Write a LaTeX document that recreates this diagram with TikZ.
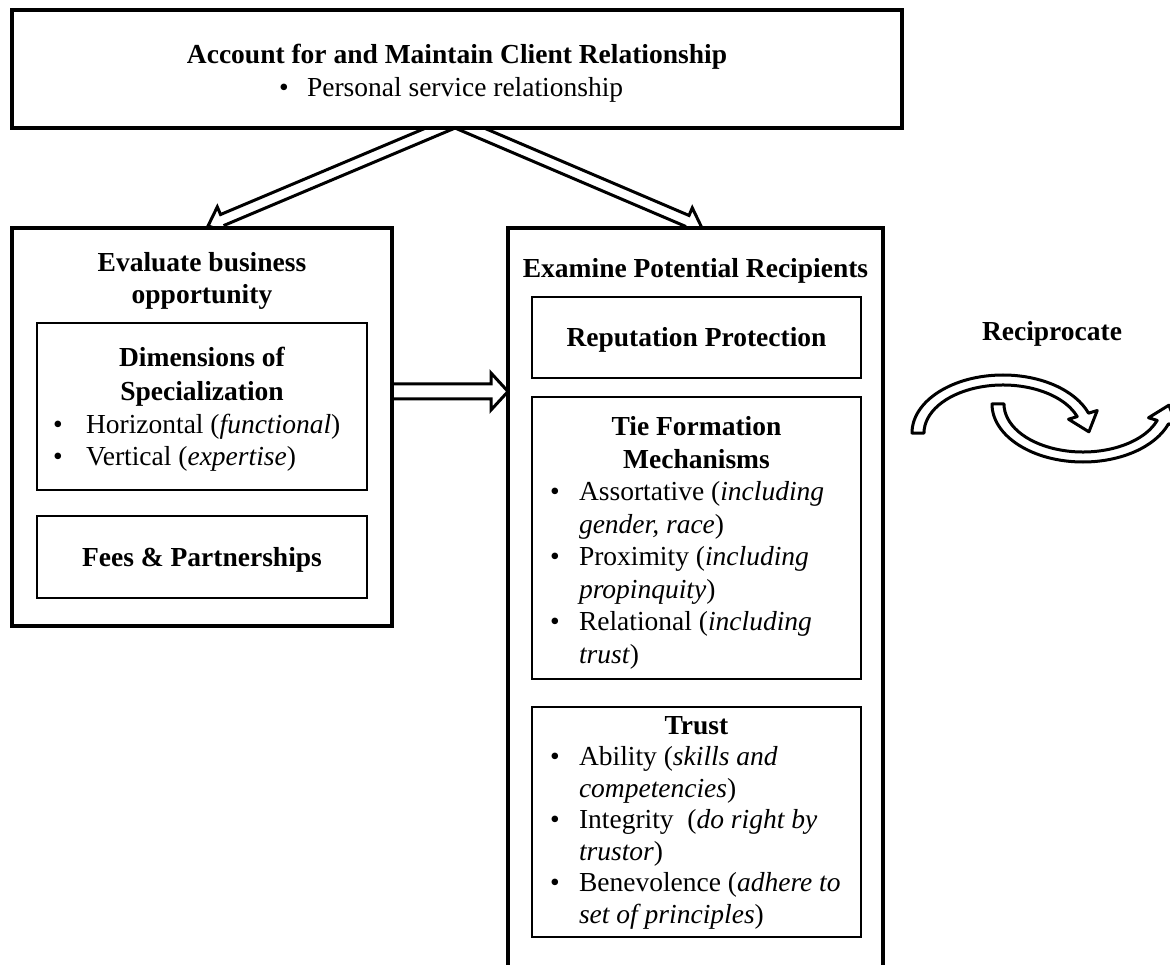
\documentclass[tikz,border=0pt]{standalone}
\usepackage{fontspec}
\setmainfont{Liberation Serif}
\usetikzlibrary{calc}
\pgfdeclarelayer{bg}
\pgfsetlayers{bg,main}
\tikzset{
  bigbox/.style={draw, line width=4pt, inner sep=0pt, outer sep=0pt, fill=white},
  innerbox/.style={draw, line width=1.8pt, inner sep=0pt, outer sep=0pt},
  txt/.style={inner sep=0pt, outer sep=0pt, font=\fontsize{27.5}{32}\selectfont},
  btxt/.style={inner sep=0pt, outer sep=0pt, font=\fontsize{27.5}{32}\selectfont\bfseries},
  arrowline/.style={line width=3pt, line join=miter, fill=white},
  recip/.style={line width=3pt, fill=white, line join=round},
}
% block arrow: #1 start, #2 tip, #3 shaft half width, #4 head half width, #5 head length
\newcommand\blockarrow[5]{%
  \coordinate (#1h) at ($(#2)!#5!(#1)$);
  \draw[arrowline] ($(#1)!#3!90:(#2)$) -- ($(#1h)!#3!90:(#2)$) -- ($(#1h)!#4!90:(#2)$)
    -- (#2) -- ($(#1h)!#4!-90:(#2)$) -- ($(#1h)!#3!-90:(#2)$) -- ($(#1)!#3!-90:(#2)$);
}
\newcommand\bulline[5]{%
  \node[txt, anchor=base] (#1b) at (#2,#4) {\textbullet};
  \node[txt, anchor=base west] (#1) at (#3,#4) {#5};
}
\newcommand\contline[4]{%
  \node[txt, anchor=base west] (#1) at (#2,#3) {#4};
}
\newcommand\recipshape[1]{%
  \coordinate (#1o) at ({1003+91*cos(340)},{433+58*sin(340)});
  \coordinate (#1i) at ({1003+79*cos(340)},{433+48*sin(340)});
  \coordinate (#1m) at ($(#1o)!0.5!(#1i)$);
  \coordinate (#1t) at ({1003+85*cos(355)},{433+53*sin(355)});
  \draw[recip] (912,433) arc[start angle=180, end angle=340, x radius=91, y radius=58]
    -- ($(#1m)!15pt!(#1o)$) -- ($(#1m)!18pt!(#1t)$) -- ($(#1m)!15pt!(#1i)$) -- (#1i)
    arc[start angle=340, end angle=180, x radius=79, y radius=48] -- cycle;
}
\begin{document}
\begin{tikzpicture}[x=1pt, y=-1pt]
\useasboundingbox (0,0) rectangle (1170,965);
\clip (0,0) rectangle (1170,965);

% top box
\node[bigbox, minimum width=890pt, minimum height=118pt] (client) at (457,69) {};
\node[btxt, anchor=base] (clientT) at (457,64) {Account for and Maintain Client Relationship};
\bulline{clientL}{284}{307}{97}{Personal service relationship}

% left box
\node[bigbox, minimum width=380pt, minimum height=398pt] (evaluate) at (202,427) {};
\node[btxt, anchor=base] (ev1) at (202,272) {Evaluate business};
\node[btxt, anchor=base] (ev2) at (202,303.5) {opportunity};
\node[innerbox, minimum width=330pt, minimum height=167pt] (dims) at (202,406.5) {};
\node[btxt, anchor=base] (d1) at (202,367) {Dimensions of};
\node[btxt, anchor=base] (d2) at (202,400) {Specialization};
\bulline{d3}{58}{86}{433}{Horizontal (\textit{functional})}
\bulline{d4}{58}{86}{465}{Vertical (\textit{expertise})}
\node[innerbox, minimum width=330pt, minimum height=82pt] (fees) at (202,557) {};
\node[btxt, anchor=base] (f1) at (202,566) {Fees \& Partnerships};

% right box
\node[bigbox, minimum width=375pt, minimum height=762pt] (examine) at (695.5,609) {};
\node[btxt, anchor=base] (ex1) at (695.5,278) {Examine Potential Recipients};
\node[innerbox, minimum width=329pt, minimum height=81pt] (rep) at (696.5,337.5) {};
\node[btxt, anchor=base] (r1) at (696.5,347) {Reputation Protection};

\node[innerbox, minimum width=329pt, minimum height=282pt] (tie) at (696.5,538) {};
\node[btxt, anchor=base] (t1) at (696.5,435.5) {Tie Formation};
\node[btxt, anchor=base] (t2) at (696.5,468) {Mechanisms};
\bulline{t3}{555}{579}{500.5}{Assortative (\textit{including}}
\contline{t4}{579}{533}{\textit{gender, race})}
\bulline{t5}{555}{579}{565.5}{Proximity (\textit{including}}
\contline{t6}{579}{598}{\textit{propinquity})}
\bulline{t7}{555}{579}{630.5}{Relational (\textit{including}}
\contline{t8}{579}{663}{\textit{trust})}

\node[innerbox, minimum width=329pt, minimum height=230pt] (trust) at (696.5,822) {};
\node[btxt, anchor=base] (u1) at (696.5,734) {Trust};
\bulline{u2}{555}{579}{765.5}{Ability (\textit{skills and}}
\contline{u3}{579}{797}{\textit{competencies})}
\bulline{u4}{555}{579}{828.5}{Integrity\ \ (\textit{do right by}}
\contline{u5}{579}{860}{\textit{trustor})}
\bulline{u6}{555}{579}{891.5}{Benevolence (\textit{adhere to}}
\contline{u7}{579}{923}{\textit{set of principles})}

% reciprocate
\node[btxt, anchor=base] (recipT) at (1052,341) {Reciprocate};
\recipshape{ra}
\begin{scope}[shift={(80,837)}, yscale=-1]
  \recipshape{rb}
\end{scope}

% connectors
\coordinate (sL) at ([xshift=-16.5pt]client.south);
\coordinate (sR) at ([xshift=12.5pt]client.south);
\coordinate (tL) at ([xshift=6pt, yshift=2pt]evaluate.north);
\coordinate (tR) at ([xshift=6pt, yshift=1pt]examine.north);
\coordinate (sLx) at ($(sL)!-25pt!(tL)$);
\coordinate (sRx) at ($(sR)!-25pt!(tR)$);
\coordinate (hA) at ([yshift=35.5pt]evaluate.east);
\coordinate (hB) at ([yshift=217.5pt]examine.west);
\begin{pgfonlayer}{bg}
  \blockarrow{sLx}{tL}{5.7pt}{14pt}{16pt}
  \blockarrow{sRx}{tR}{5.7pt}{14pt}{16pt}
  \blockarrow{hA}{hB}{7.5pt}{18.5pt}{17pt}
\end{pgfonlayer}
\end{tikzpicture}
\end{document}
